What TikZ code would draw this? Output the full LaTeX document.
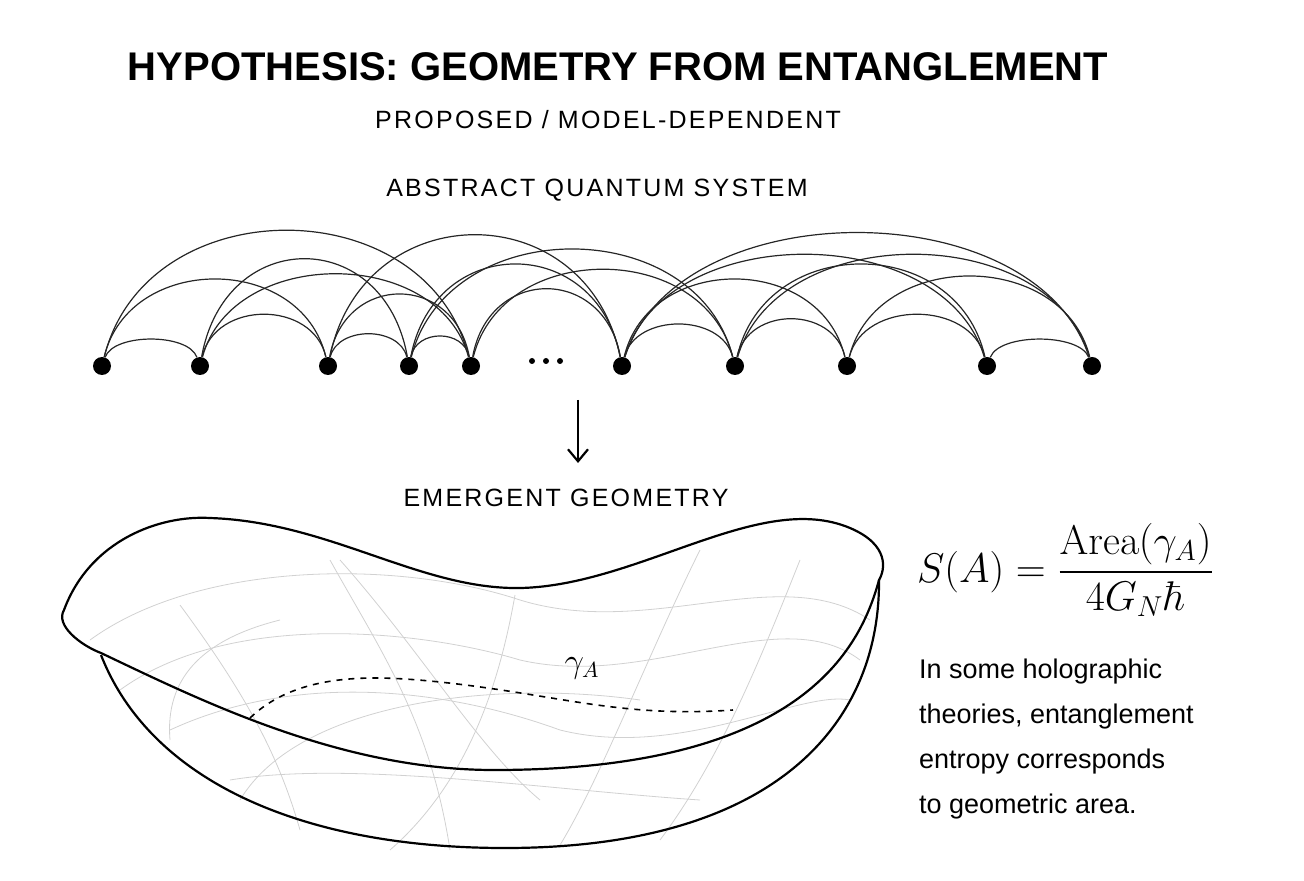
\documentclass[tikz,border=0pt]{standalone}
\usepackage{amsmath}
\usepackage[no-math]{fontspec}
\setmainfont{Liberation Sans}
\usetikzlibrary{calc,arrows.meta}
\newcommand\qarc[3]{\draw[arcst] (n#1) .. controls ($(n#1)!0.12!(n#2)+(0,-#3)$) and ($(n#2)!0.12!(n#1)+(0,-#3)$) .. (n#2);}
\begin{document}
\begin{tikzpicture}[x=0.5pt,y=-0.5pt,
  arcst/.style={line width=0.6pt,black!85},
  dot/.style={circle,fill=black,inner sep=0pt,minimum size=9pt},
  sdot/.style={circle,fill=black,inner sep=0pt,minimum size=3pt},
  captxt/.style={font=\fontsize{12.5}{14}\selectfont\addfontfeatures{LetterSpace=9}},
  rim/.style={line width=1.1pt},
  grid/.style={black!18,line width=0.4pt}]
\useasboundingbox (0,0) rectangle (1304,881);
\node[font=\bfseries\fontsize{20}{24}\selectfont] (title) at (618,67) {HYPOTHESIS: GEOMETRY FROM ENTANGLEMENT};
\node[captxt] (sub) at (608,120) {PROPOSED / MODEL-DEPENDENT};
\node[captxt] (abs) at (597,190) {ABSTRACT QUANTUM SYSTEM};
\foreach \i/\x in {0/102,1/200,2/328,3/409,4/471,6/622,7/735,8/847,9/987,10/1092}
  \node[dot] (n\i) at (\x,366) {};
\foreach \i/\x in {1/532,2/546,3/560}
  \node[sdot] (d\i) at (\x,361) {};
\qarc{0}{1}{33}\qarc{0}{2}{113}\qarc{0}{4}{178}
\qarc{1}{2}{66}\qarc{1}{3}{140}\qarc{1}{4}{120}
\qarc{2}{3}{40}\qarc{2}{4}{93}\qarc{3}{4}{37}
\qarc{2}{6}{172}\qarc{3}{6}{133}\qarc{4}{6}{100}
\qarc{3}{7}{153}\qarc{4}{7}{126}
\qarc{6}{7}{53}\qarc{6}{8}{113}\qarc{6}{9}{146}\qarc{6}{10}{175}
\qarc{7}{8}{60}\qarc{7}{9}{133}\qarc{7}{10}{146}
\qarc{8}{9}{66}\qarc{8}{10}{117}\qarc{9}{10}{33}
\coordinate (a1) at (578,400);
\coordinate (a2) at (578,463);
\draw[line width=1.1pt,-{Straight Barb[length=6pt,width=10pt]}] (a1) -- (a2);
\node[captxt] (emg) at (566,498) {EMERGENT GEOMETRY};
% grid
\draw[grid] (90,640) .. controls (200,560) and (400,560) .. (520,600) .. controls (650,640) and (780,560) .. (870,620);
\draw[grid] (120,690) .. controls (230,610) and (420,630) .. (520,660) .. controls (650,690) and (780,600) .. (860,660);
\draw[grid] (170,730) .. controls (300,670) and (450,690) .. (560,730) .. controls (680,760) and (800,690) .. (850,700);
\draw[grid] (230,780) .. controls (350,760) and (550,790) .. (700,800);
\draw[grid] (180,605) .. controls (250,700) and (280,760) .. (300,830);
\draw[grid] (330,560) .. controls (380,650) and (430,720) .. (450,850);
\draw[grid] (340,560) .. controls (420,650) and (480,750) .. (540,800);
\draw[grid] (515,595) .. controls (500,680) and (470,780) .. (390,850);
\draw[grid] (700,550) .. controls (650,650) and (600,780) .. (560,845);
\draw[grid] (800,560) .. controls (760,660) and (720,760) .. (660,840);
\draw[grid] (170,740) .. controls (165,680) and (200,640) .. (280,620);
\draw[grid] (240,800) .. controls (300,700) and (500,680) .. (640,700);
% bowl
\draw[rim] (64,610) .. controls (90,540) and (160,515) .. (210,518) .. controls (330,522) and (420,590) .. (521,588) .. controls (640,585) and (760,490) .. (850,528) .. controls (890,545) and (885,570) .. (879,580) .. controls (860,650) and (800,770) .. (494,770) .. controls (340,770) and (200,700) .. (101,653) .. controls (80,645) and (55,625) .. (64,610);
\draw[rim] (101,655) .. controls (150,780) and (300,848) .. (505,848) .. controls (780,848) and (880,720) .. (879,580);
\draw[dashed,line width=0.8pt] (250,718) .. controls (300,670) and (380,676) .. (440,682) .. controls (560,695) and (620,718) .. (733,710);
\node[font=\fontsize{16}{16}\selectfont] (gam) at (582,668) {$\gamma_A$};
\node[anchor=west,font=\fontsize{20}{24}\selectfont] (form) at (910,570) {$S(A)=\dfrac{\mathrm{Area}(\gamma_A)}{4G_N\hbar}$};
\node[anchor=north west,align=left,font=\fontsize{13.5}{22.5}\selectfont] (txt) at (912,652) {In some holographic\\theories, entanglement\\entropy corresponds\\to geometric area.};
\end{tikzpicture}
\end{document}
